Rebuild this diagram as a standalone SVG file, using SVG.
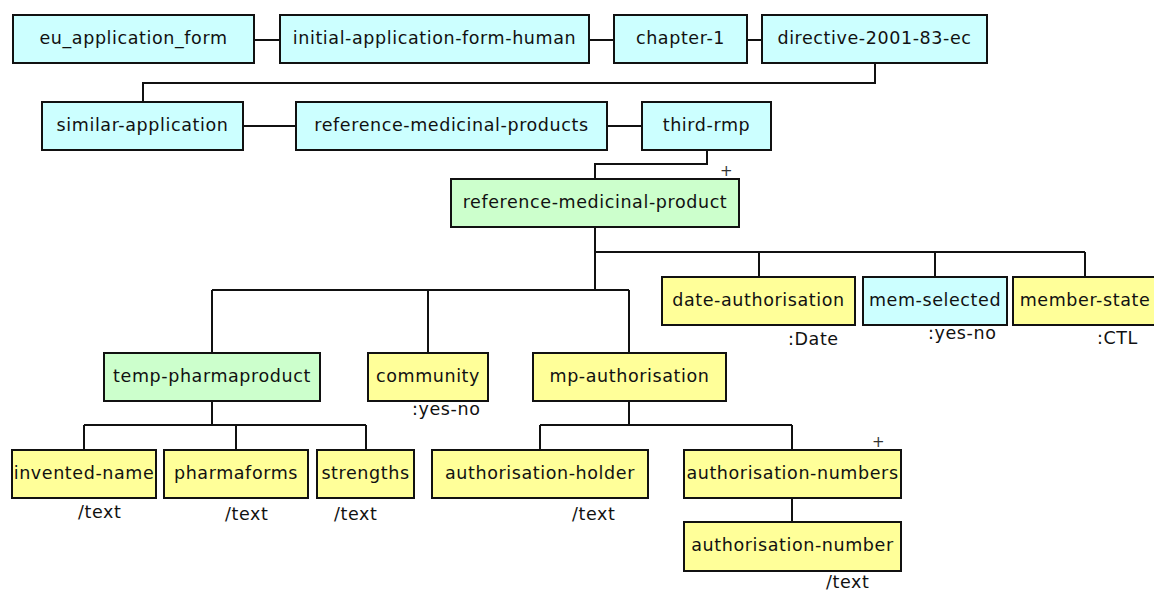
<svg xmlns="http://www.w3.org/2000/svg" width="1154" height="592" viewBox="0 0 1154 592">
  <style>
    .box rect { stroke: #111; stroke-width: 2; }
    .cyan rect { fill: #ccffff; }
    .green rect { fill: #ccffcc; }
    .yellow rect { fill: #ffff99; }
    text { font-family: "DejaVu Sans", Verdana, sans-serif; font-size: 17.5px; letter-spacing: 0.6px; fill: #111; }
    .box text { text-anchor: middle; }
    .conn { fill: none; stroke: #111; stroke-width: 2; }
    .mark { font-size: 15px; letter-spacing: 0; fill: #333; }
  </style>
  <rect width="1154" height="592" fill="#ffffff"/>

  <!-- connectors -->
  <g id="connectors" class="conn">
    <path d="M254 40H280"/>
    <path d="M589 40H614"/>
    <path d="M747 40H762"/>
    <path d="M875 63V83H143V102"/>
    <path d="M243 126H296"/>
    <path d="M607 126H642"/>
    <path d="M707 150V164H595V179"/>
    <path d="M595 227V290"/>
    <path d="M595 252H1085"/>
    <path d="M759 252V277M935 252V277M1085 252V277"/>
    <path d="M212 290H629"/>
    <path d="M212 290V353M428 290V353M629 290V353"/>
    <path d="M212 401V425"/>
    <path d="M84 425H366"/>
    <path d="M84 425V450M236 425V450M366 425V450"/>
    <path d="M629 401V425"/>
    <path d="M540 425H792"/>
    <path d="M540 425V450M792 425V450"/>
    <path d="M792 498V522"/>
  </g>

  <!-- nodes -->
  <g id="eu_application_form" class="box cyan"><rect x="13" y="15" width="241" height="48"/><text x="133.5" y="44">eu_application_form</text></g>
  <g id="initial-application-form-human" class="box cyan"><rect x="280" y="15" width="309" height="48"/><text x="434.5" y="44">initial-application-form-human</text></g>
  <g id="chapter-1" class="box cyan"><rect x="614" y="15" width="133" height="48"/><text x="680.5" y="44">chapter-1</text></g>
  <g id="directive-2001-83-ec" class="box cyan"><rect x="762" y="15" width="225" height="48"/><text x="874.5" y="44">directive-2001-83-ec</text></g>

  <g id="similar-application" class="box cyan"><rect x="42" y="102" width="201" height="48"/><text x="142.5" y="131">similar-application</text></g>
  <g id="reference-medicinal-products" class="box cyan"><rect x="296" y="102" width="311" height="48"/><text x="451.5" y="131">reference-medicinal-products</text></g>
  <g id="third-rmp" class="box cyan"><rect x="642" y="102" width="129" height="48"/><text x="706.5" y="131">third-rmp</text></g>

  <g id="reference-medicinal-product" class="box green"><rect x="451" y="179" width="288" height="48"/><text x="595" y="208">reference-medicinal-product</text></g>
  <text class="mark" x="720" y="176">+</text>

  <g id="date-authorisation" class="box yellow"><rect x="662" y="277" width="193" height="48"/><text x="758.5" y="306">date-authorisation</text></g>
  <text x="788" y="345">:Date</text>
  <g id="mem-selected" class="box cyan"><rect x="863" y="277" width="144" height="48"/><text x="935" y="306">mem-selected</text></g>
  <text x="928" y="339">:yes-no</text>
  <g id="member-state" class="box yellow"><rect x="1013" y="277" width="144" height="48"/><text x="1085" y="306">member-state</text></g>
  <text x="1097" y="344">:CTL</text>

  <g id="temp-pharmaproduct" class="box green"><rect x="104" y="353" width="216" height="48"/><text x="212" y="382">temp-pharmaproduct</text></g>
  <g id="community" class="box yellow"><rect x="368" y="353" width="120" height="48"/><text x="428" y="382">community</text></g>
  <text x="412" y="415">:yes-no</text>
  <g id="mp-authorisation" class="box yellow"><rect x="533" y="353" width="193" height="48"/><text x="629.5" y="382">mp-authorisation</text></g>

  <g id="invented-name" class="box yellow"><rect x="12" y="450" width="144" height="48"/><text x="84" y="479">invented-name</text></g>
  <text x="78" y="518">/text</text>
  <g id="pharmaforms" class="box yellow"><rect x="164" y="450" width="144" height="48"/><text x="236" y="479">pharmaforms</text></g>
  <text x="225" y="520">/text</text>
  <g id="strengths" class="box yellow"><rect x="317" y="450" width="97" height="48"/><text x="365.5" y="479">strengths</text></g>
  <text x="334" y="520">/text</text>

  <g id="authorisation-holder" class="box yellow"><rect x="432" y="450" width="216" height="48"/><text x="540" y="479">authorisation-holder</text></g>
  <text x="572" y="520">/text</text>
  <g id="authorisation-numbers" class="box yellow"><rect x="684" y="450" width="217" height="48"/><text x="792.5" y="479">authorisation-numbers</text></g>
  <text class="mark" x="872" y="447">+</text>
  <g id="authorisation-number" class="box yellow"><rect x="684" y="522" width="217" height="49"/><text x="792.5" y="551">authorisation-number</text></g>
  <text x="826" y="588">/text</text>
</svg>
